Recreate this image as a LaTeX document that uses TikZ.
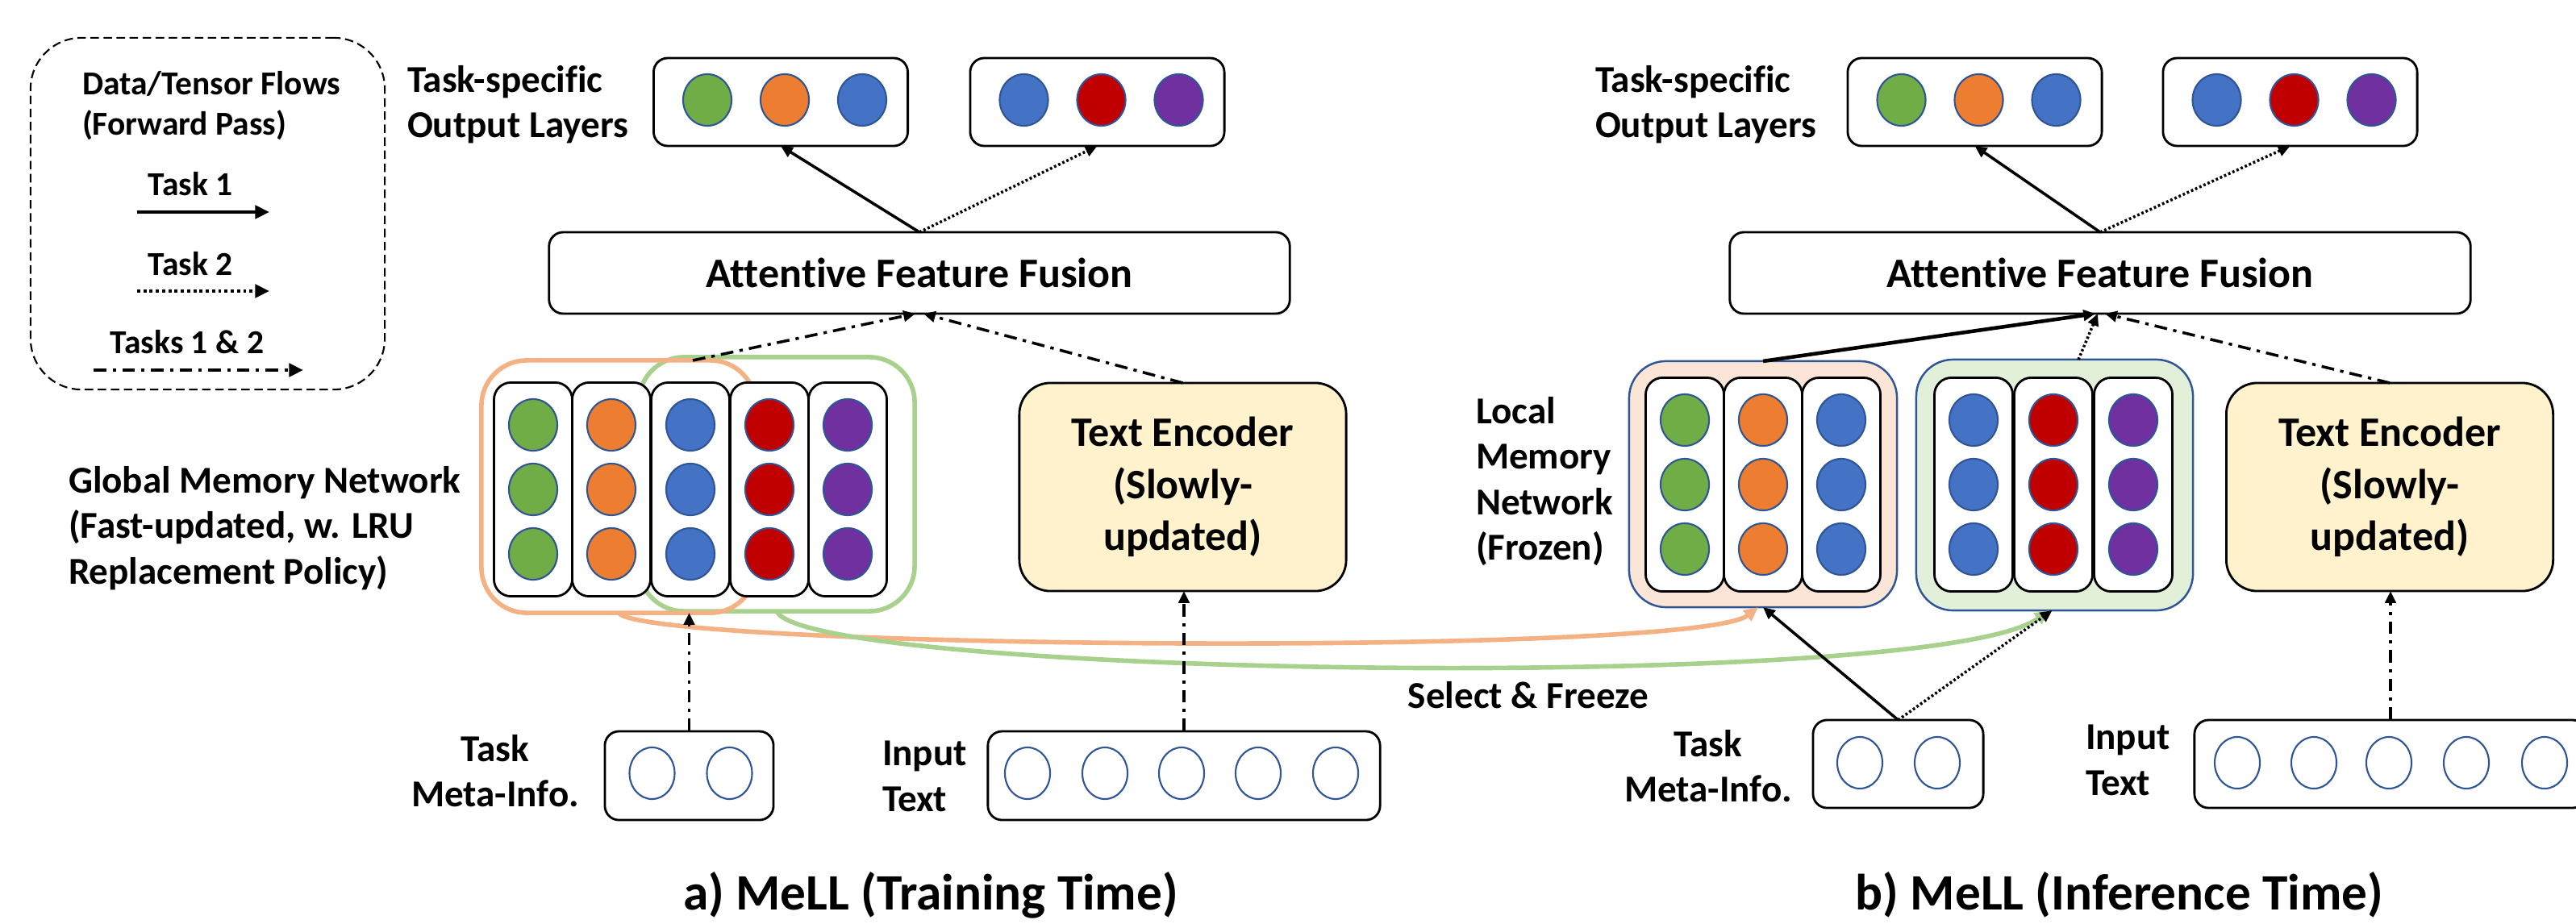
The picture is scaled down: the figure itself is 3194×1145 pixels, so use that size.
\documentclass[tikz,border=0pt]{standalone}
\usepackage{fontspec}
\setmainfont[Ligatures=NoCommon]{Carlito}
\usetikzlibrary{arrows.meta,shapes.geometric,calc}

\definecolor{cgreen}{HTML}{70AD47}
\definecolor{corange}{HTML}{ED7D31}
\definecolor{cblue}{HTML}{4472C4}
\definecolor{cred}{HTML}{C00000}
\definecolor{cpurple}{HTML}{7030A0}
\definecolor{rimblue}{HTML}{2F5597}
\definecolor{peachfill}{HTML}{FBE5D6}
\definecolor{mintfill}{HTML}{E2F0D9}
\definecolor{encfill}{HTML}{FFF2CC}
\definecolor{orangeline}{HTML}{F4B183}
\definecolor{greenline}{HTML}{A9D18E}

% one memory slot: a tall rounded column holding three coloured units
\newcommand\MemColumn[4]{%
  \node[memcol] (#1) at (#2,#3) {};
  \node[dot, fill=#4] (#1-1) at (#2,#3-80) {};
  \node[dot, fill=#4] (#1-2) at (#2,#3) {};
  \node[dot, fill=#4] (#1-3) at (#2,#3+80) {};
}
% one task-specific output layer with three units
\newcommand\OutBox[5]{%
  \node[plainbox, minimum width=3.15cm, minimum height=1.09cm] (#1) at (#2,126.5) {};
  \node[dot, fill=#3] (#1-1) at (#2-91,124) {};
  \node[dot, fill=#4] (#1-2) at (#2+5,124) {};
  \node[dot, fill=#5] (#1-3) at (#2+101,124) {};
}

\begin{document}
\begin{tikzpicture}[x=0.01cm, y=-0.01cm,
  every node/.style={inner sep=0pt, outer sep=0pt},
  >={Triangle[length=4.2pt,width=3.8pt]},
  lbl/.style={font=\fontsize{13.4}{16}\selectfont\bfseries, align=left},
  lblc/.style={lbl, align=center},
  legtxt/.style={font=\fontsize{11.8}{14}\selectfont\bfseries, align=left},
  bigtxt/.style={font=\fontsize{14.8}{18.4}\selectfont\bfseries, align=center},
  titletxt/.style={font=\fontsize{18}{22}\selectfont\bfseries},
  plainbox/.style={draw=black, line width=0.8pt, fill=white, rounded corners=5pt},
  memcol/.style={plainbox, minimum width=0.97cm, minimum height=2.65cm, rounded corners=6pt},
  dot/.style={ellipse, draw=rimblue, line width=0.6pt, minimum width=0.6cm, minimum height=0.64cm},
  hollow/.style={ellipse, draw=rimblue, line width=0.6pt, minimum width=0.56cm, minimum height=0.64cm},
  ring/.style={draw=#1, line width=1.6pt, rounded corners=16pt},
  localbox/.style={draw=rimblue, line width=0.7pt, fill=#1, rounded corners=13pt},
  encoder/.style={draw=black, line width=0.8pt, fill=encfill, rounded corners=11pt,
    minimum width=4.05cm, minimum height=2.58cm, bigtxt},
  fusion/.style={plainbox, bigtxt, minimum width=9.18cm, minimum height=1.01cm},
  flowone/.style={line width=1pt, ->},
  flowtwo/.style={line width=1pt, dash pattern=on 0.8pt off 0.8pt, ->},
  flowboth/.style={line width=1pt, dash pattern=on 4.5pt off 2.2pt on 1.2pt off 2.2pt, ->},
  selectline/.style={draw=#1, line width=1.6pt, -{Triangle[length=5pt,width=4.6pt]}}
]
\useasboundingbox (0,0) rectangle (3194,1145);
\clip (0,0) rectangle (3194,1145);

% ---------------- legend ----------------
\node[draw, line width=0.6pt, dash pattern=on 3pt off 1.6pt, rounded corners=18pt,
      minimum width=4.39cm, minimum height=4.36cm] (legend) at (257.5,265) {};
\node[legtxt, anchor=west] (legtitle) at (102,131) {Data/Tensor Flows\\(Forward Pass)};
\node[legtxt] (legone) at (236,228) {Task 1};
\node[legtxt] (legtwo) at (236,327) {Task 2};
\node[legtxt] (legboth) at (232,424) {Tasks 1 \& 2};
\coordinate (legoneA) at (170,263);  \coordinate (legoneB) at (334,263);
\coordinate (legtwoA) at (170,361);  \coordinate (legtwoB) at (334,361);
\coordinate (legbothA) at (116,459); \coordinate (legbothB) at (376,459);
\draw[flowone, line width=1.2pt, -{Triangle[length=5pt,width=4.6pt]}] (legoneA) -- (legoneB);
\draw[flowtwo, line width=1.2pt, dash pattern=on 1.1pt off 1.1pt, -{Triangle[length=5pt,width=4.6pt]}] (legtwoA) -- (legtwoB);
\draw[flowboth, line width=1.2pt, -{Triangle[length=5pt,width=4.6pt]}] (legbothA) -- (legbothB);

% ================= a) training time =================
\node[lbl, anchor=west] (outlabL) at (505,130) {Task-specific\\Output Layers};
\OutBox{outLa}{968}{cgreen}{corange}{cblue}
\OutBox{outLb}{1360.5}{cblue}{cred}{cpurple}
\node[fusion] (fuseL) at (1140,338.5) {Attentive Feature Fusion};

% global memory: two overlapping task groups
\node[ring=greenline, minimum width=3.42cm, minimum height=3.15cm] (greenring) at (963,600.5) {};
\node[ring=orangeline, minimum width=3.40cm, minimum height=3.13cm] (orangering) at (767,603.5) {};
\MemColumn{gm1}{661}{607}{cgreen}
\MemColumn{gm2}{758}{607}{corange}
\MemColumn{gm3}{856}{607}{cblue}
\MemColumn{gm4}{954}{607}{cred}
\MemColumn{gm5}{1051}{607}{cpurple}
\node[lbl, anchor=west] (gmlabel) at (85,655) {Global Memory Network\\(Fast-updated, w. LRU\\Replacement Policy)};

\node[encoder] (encL) at (1466.5,604) {Text Encoder\\(Slowly-\\updated)};

\node[plainbox, minimum width=2.09cm, minimum height=1.10cm] (metaL) at (854.5,962) {};
\node[hollow] (metaL-1) at (808.5,959) {};
\node[hollow] (metaL-2) at (904.5,959) {};
\node[lblc] (metaLlab) at (614,956) {Task\\Meta-Info.};

\node[plainbox, minimum width=4.86cm, minimum height=1.10cm] (inL) at (1468,962) {};
\foreach \i/\dx in {1/-194,2/-98,3/-3,4/92,5/188}
  \node[hollow] (inL-\i) at (1468+\dx,959) {};
\node[lbl, anchor=west] (inLlab) at (1094,963) {Input\\Text};

\node[titletxt] (titleL) at (1154,1110) {a) MeLL (Training Time)};

% ================= b) inference time =================
\node[lbl, anchor=west] (outlabR) at (1978,130) {Task-specific\\Output Layers};
\OutBox{outRa}{2448.5}{cgreen}{corange}{cblue}
\OutBox{outRb}{2839.5}{cblue}{cred}{cpurple}
\node[fusion] (fuseR) at (2604,338.5) {Attentive Feature Fusion};

\node[localbox=peachfill, minimum width=3.32cm, minimum height=3.05cm] (peach) at (2186,600.5) {};
\node[localbox=mintfill, minimum width=3.43cm, minimum height=3.11cm] (mint) at (2547.5,601.5) {};
\MemColumn{lm1}{2089}{601}{cgreen}
\MemColumn{lm2}{2186}{601}{corange}
\MemColumn{lm3}{2283}{601}{cblue}
\MemColumn{lm4}{2447}{601}{cblue}
\MemColumn{lm5}{2546}{601}{cred}
\MemColumn{lm6}{2645}{601}{cpurple}
\node[lbl, anchor=west] (locallab) at (1830,597) {Local\\Memory\\Network\\(Frozen)};

\node[encoder] (encR) at (2963,604) {Text Encoder\\(Slowly-\\updated)};

\node[plainbox, minimum width=2.11cm, minimum height=1.09cm] (metaR) at (2353.5,947.5) {};
\node[hollow] (metaR-1) at (2306,946) {};
\node[hollow] (metaR-2) at (2402,946) {};
\node[lblc] (metaRlab) at (2118,950) {Task\\Meta-Info.};

\node[plainbox, minimum width=4.86cm, minimum height=1.09cm] (inR) at (2964,947.5) {};
\foreach \i/\dx in {1/-190,2/-95,3/-2,4/94,5/191}
  \node[hollow] (inR-\i) at (2964+\dx,946) {};
\node[lbl, anchor=west] (inRlab) at (2586,943) {Input\\Text};

\node[titletxt] (titleR) at (2628,1110) {b) MeLL (Inference Time)};

% ---------------- select & freeze ----------------
\node[lbl] (selectlab) at (1895,862) {Select \& Freeze};
\draw[selectline=orangeline] (orangering.south) .. controls (800,805) and (2100,815) .. ($(peach.south)+(-6,0)$);
\draw[selectline=greenline] (greenring.south) .. controls (1000,840) and (2400,860) .. ($(mint.south)+(-7,0)$);

% ---------------- flows, training ----------------
\coordinate (memtop) at (859,447);
\draw[flowone] (fuseL.north) -- (outLa.south);
\draw[flowtwo] (fuseL.north) -- (outLb.south);
\draw[flowboth] (memtop) -- ($(fuseL.south)+(-5,0)$);
\draw[flowboth] (encL.north) -- ($(fuseL.south)+(5,0)$);
\draw[flowboth] (metaL.north) -- (metaL.north |- orangering.south);
\draw[flowboth] (inL.north) -- (inL.north |- encL.south);

% ---------------- flows, inference ----------------
\coordinate (minttop) at (2577,446);
\draw[flowone] (fuseR.north) -- (outRa.south);
\draw[flowtwo] (fuseR.north) -- (outRb.south);
\draw[flowone, line width=1.3pt] (peach.north) -- ($(fuseR.south)+(-6,0)$);
\draw[flowtwo] (minttop) -- ($(fuseR.south)+(-3,0)$);
\draw[flowboth] (encR.north) -- ($(fuseR.south)+(6,0)$);
\draw[flowone] (metaR.north) -- (peach.south);
\draw[flowtwo] (metaR.north) -- ($(mint.south)+(-3,0)$);
\draw[flowboth] (inR.north) -- (inR.north |- encR.south);
\end{tikzpicture}
\end{document}
